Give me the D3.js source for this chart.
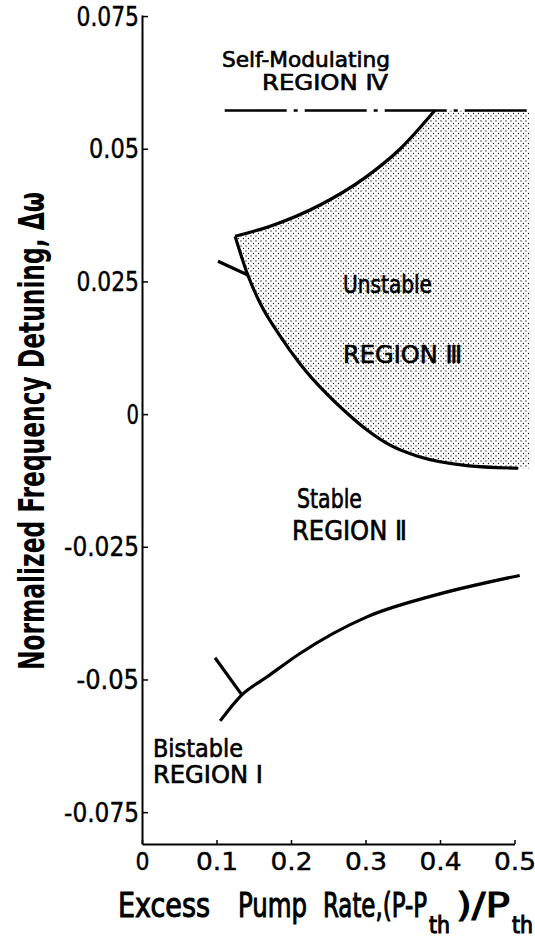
<!DOCTYPE html>
<html>
<head>
<meta charset="utf-8">
<script src="https://cdn.jsdelivr.net/npm/d3@7"></script>
<style>
  body { margin: 0; background: #fff; }
  svg text { font-family: "DejaVu Sans Condensed", "DejaVu Sans", sans-serif; fill: #000; }
</style>
</head>
<body>
<div class="chart"></div>
<script>
// axis ticks
const xTicks = [0, 0.1, 0.2, 0.3, 0.4, 0.5];
const xTickLabels = ["0", "0.1", "0.2", "0.3", "0.4", "0.5"];
const yTicks = [0.075, 0.05, 0.025, 0, -0.025, -0.05, -0.075];
const yTickLabels = ["0.075", "0.05", "0.025", "0", "-0.025", "-0.05", "-0.075"];

// region III (unstable) boundaries
const upperX = [0.125, 0.172, 0.239, 0.300, 0.346, 0.393];
const upperY = [0.0335, 0.0354, 0.0394, 0.0446, 0.0499, 0.0572];
const lowerX = [0.125, 0.142, 0.160, 0.185, 0.212, 0.248, 0.275, 0.302, 0.335, 0.369, 0.436, 0.505];
const lowerY = [0.0335, 0.0262, 0.0205, 0.0148, 0.0095, 0.0038, 0.0002, -0.0030, -0.0060, -0.0079, -0.0097, -0.0102];
const branchIIIX = [0.102, 0.142];
const branchIIIY = [0.0288, 0.0262];
const shadeRightX = 0.52;

// region II / I boundary
const stableX = [0.105, 0.134, 0.168, 0.212, 0.302, 0.391, 0.507];
const stableY = [-0.0578, -0.0529, -0.0495, -0.0451, -0.0382, -0.0342, -0.0304];
const branchIX = [0.098, 0.134];
const branchIY = [-0.0459, -0.0529];

// self-modulating threshold (dash-dot)
const selfModX = [0.111, 0.523];
const selfModY = [0.0572, 0.0572];

const w = 535;
const h = 938;

const svg = d3.select(".chart")
              .append("svg")
              .attr("width", w)
              .attr("height", h);

const x = d3.scaleLinear().domain([0, 0.5]).range([142, 514.5]);
const y = d3.scaleLinear().domain([-0.081, 0.0752]).range([844, 15]);

// dotted shading
const pat = svg.append("defs").append("pattern")
               .attr("id", "dots")
               .attr("patternUnits", "userSpaceOnUse")
               .attr("width", 5)
               .attr("height", 5);
pat.append("circle").attr("cx", 1).attr("cy", 1).attr("r", 0.65).attr("fill", "#111");
pat.append("circle").attr("cx", 3.5).attr("cy", 3.5).attr("r", 0.65).attr("fill", "#111");

const pts = (xs, ys) => xs.map((d, i) => [d, ys[i]]);
const line = d3.line()
               .x(d => x(d[0]))
               .y(d => y(d[1]))
               .curve(d3.curveMonotoneX);
const straight = d3.line().x(d => x(d[0])).y(d => y(d[1]));

const upper = pts(upperX, upperY);
const lower = pts(lowerX, lowerY);
const topY = upperY[upperY.length - 1];
const lowEnd = lowerY[lowerY.length - 1];

const fillPath = line(upper)
  + "L" + x(shadeRightX) + "," + y(topY)
  + "L" + x(shadeRightX) + "," + y(lowEnd)
  + line(lower.slice().reverse()).replace(/^M/, "L") + "Z";

svg.append("path")
   .attr("d", fillPath)
   .attr("fill", "url(#dots)")
   .attr("stroke", "none");

const curve = (d, gen) => svg.append("path")
   .attr("d", gen(d))
   .attr("fill", "none")
   .attr("stroke", "#000")
   .attr("stroke-width", 3.2)
   .attr("stroke-linejoin", "round");

curve(upper, line);
curve(lower, line);
curve(pts(branchIIIX, branchIIIY), straight);
curve(pts(stableX, stableY), line);
curve(pts(branchIX, branchIY), straight);

svg.append("path")
   .attr("d", straight(pts(selfModX, selfModY)))
   .attr("fill", "none")
   .attr("stroke", "#000")
   .attr("stroke-width", 2.5)
   .attr("stroke-dasharray", "62,7,4,7");

// axes
const yAxis = d3.axisLeft(y)
                .tickValues(yTicks)
                .tickFormat((d, i) => yTickLabels[i])
                .tickSizeInner(-6)
                .tickSizeOuter(0)
                .tickPadding(3);
const xAxis = d3.axisBottom(x)
                .tickValues(xTicks)
                .tickFormat((d, i) => xTickLabels[i])
                .tickSizeInner(-4)
                .tickSizeOuter(0)
                .tickPadding(8);

const gy = svg.append("g")
              .attr("transform", "translate(" + x(0) + ",0)")
              .call(yAxis);
const gx = svg.append("g")
              .attr("transform", "translate(0," + y.range()[0] + ")")
              .call(xAxis);

[gx, gy].forEach(g => {
  g.select(".domain").attr("stroke-width", 2);
  g.selectAll(".tick line").attr("stroke-width", 1.5);
  g.selectAll(".tick text").attr("font-family", null).attr("fill", "#000")
   .attr("stroke", "#000").attr("stroke-width", 0.4)
   .attr("lengthAdjust", "spacingAndGlyphs");
});
gy.selectAll(".tick text").attr("font-size", 26).attr("dy", "0.35em")
  .attr("textLength", (d, i) => yTickLabels[i].length * 12.5);
gx.selectAll(".tick text").attr("font-size", 25)
  .attr("textLength", (d, i) => xTickLabels[i].length * 14);

// region labels
const label = (txt, lx, ly, size, len) => svg.append("text")
   .attr("x", lx)
   .attr("y", ly)
   .attr("font-size", size)
   .attr("stroke", "#000")
   .attr("stroke-width", 0.6)
   .attr("textLength", len)
   .attr("lengthAdjust", "spacingAndGlyphs")
   .text(txt);

label("Self-Modulating", 222, 67, 21, 168);
label("REGION \u2163", 262, 90, 21, 126);
label("Unstable", 343, 293, 24, 89);
label("REGION \u2162", 343, 363, 25, 119);
label("Stable", 297, 508, 26, 65);
label("REGION \u2161", 292, 540, 26, 115);
label("Bistable", 153, 757, 25, 90);
label("REGION \u2160", 153, 783, 24, 110);

// axis titles
svg.append("text")
   .attr("transform", "translate(44,431) rotate(-90)")
   .attr("text-anchor", "middle")
   .attr("font-size", 36)
   .attr("font-weight", "bold")
   .attr("textLength", 478)
   .attr("lengthAdjust", "spacingAndGlyphs")
   .text("Normalized  Frequency  Detuning, \u0394\u03c9");

const xt = (txt, lx, len) => svg.append("text")
   .attr("x", lx)
   .attr("y", 917)
   .attr("font-size", 34)
   .attr("stroke", "#000")
   .attr("stroke-width", 1)
   .attr("textLength", len)
   .attr("lengthAdjust", "spacingAndGlyphs")
   .text(txt);

xt("Excess", 118, 92);
xt("Pump", 238, 69);

const rate = svg.append("text")
   .attr("y", 917)
   .attr("font-size", 34)
   .attr("stroke", "#000")
   .attr("stroke-width", 1);
[["Rate,(P-P", 323, 917, 34, 104],
 ["th", 429, 933, 23, 21],
 [")/P", 456, 917, 34, 54],
 ["th", 512, 933, 23, 21]].forEach(p => {
  rate.append("tspan")
      .attr("x", p[1])
      .attr("y", p[2])
      .attr("font-size", p[3])
      .attr("textLength", p[4])
      .attr("lengthAdjust", "spacingAndGlyphs")
      .text(p[0]);
});
</script>
</body>
</html>
